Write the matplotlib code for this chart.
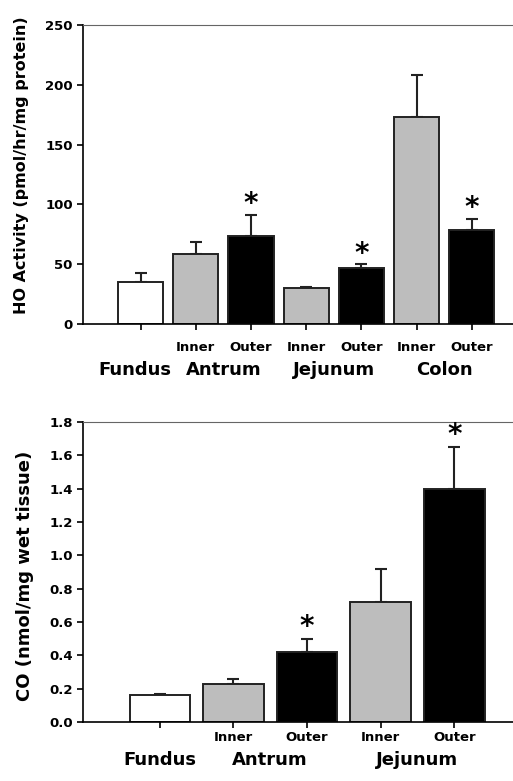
import numpy as np
import matplotlib.pyplot as plt

# Верхній графік: HO activity
ho_sub = ['', 'Inner', 'Outer', 'Inner', 'Outer', 'Inner', 'Outer']
ho_vals = [35, 59, 74, 30, 47, 173, 79]
ho_err = [8, 10, 17, 1, 3, 35, 9]
ho_colors = ['white', '#bdbdbd', 'black', '#bdbdbd', 'black', '#bdbdbd', 'black']
ho_star = [False, False, True, False, True, False, True]
ho_groups = ['Fundus', 'Antrum', 'Jejunum', 'Colon']
ho_group_pos = [-0.1, 1.5, 3.5, 5.5]

# Нижній графік: CO
co_sub = ['', 'Inner', 'Outer', 'Inner', 'Outer']
co_vals = [0.16, 0.23, 0.42, 0.72, 1.40]
co_err = [0.01, 0.03, 0.08, 0.20, 0.25]
co_colors = ['white', '#bdbdbd', 'black', '#bdbdbd', 'black']
co_star = [False, False, True, False, True]
co_groups = ['Fundus', 'Antrum', 'Jejunum']
co_group_pos = [0, 1.5, 3.5]

plt.rcParams['font.family'] = 'DejaVu Sans'
plt.rcParams['font.weight'] = 'bold'

fig = plt.figure(figsize=(5.13, 7.81), dpi=100)
ax1 = fig.add_axes([0.162, 0.585, 0.86, 0.383])
ax2 = fig.add_axes([0.162, 0.0755, 0.86, 0.384])


def draw(ax, vals, err, colors, star, sub, groups, gpos, ylim, yticks, ylabel, fmt,
         star_off, lab_fs, lab_xy, sub_off, grp_off):
    x = np.arange(len(vals))
    ax.bar(x, vals, width=0.82, color=colors, edgecolor='#222222', linewidth=1.4, zorder=2)
    ax.errorbar(x, vals, yerr=[np.zeros(len(err)), err], fmt='none', ecolor='#222222',
                elinewidth=1.5, capsize=4, capthick=1.5, zorder=1)
    for xi, v, e, s in zip(x, vals, err, star):
        if s:
            ax.text(xi, v + e + star_off, '*', ha='center', va='center', fontsize=20, fontweight='bold')
    ax.set_xlim(-1.04, len(vals) - 0.05)
    ax.set_ylim(*ylim)
    ax.set_yticks(yticks)
    ax.set_yticklabels([fmt.format(t) for t in yticks], fontsize=9.5, fontweight='bold')
    ax.set_xticks(x)
    ax.set_xticklabels([])
    ax.tick_params(axis='both', direction='out', length=4, width=1.2)
    ax.spines['right'].set_visible(False)
    ax.spines['top'].set_color('#666666')
    ax.spines['left'].set_linewidth(1.2)
    ax.spines['bottom'].set_linewidth(1.2)
    ax.set_ylabel(ylabel, fontsize=lab_fs, fontweight='bold')
    ax.yaxis.set_label_coords(*lab_xy)
    for xi, s in zip(x, sub):
        ax.annotate(s, (xi, 0), xycoords=('data', 'axes fraction'), xytext=(0, sub_off),
                    textcoords='offset points', ha='center', va='center',
                    fontsize=9.5, fontweight='bold')
    for g, p in zip(groups, gpos):
        ax.annotate(g, (p, 0), xycoords=('data', 'axes fraction'), xytext=(0, grp_off),
                    textcoords='offset points', ha='center', va='center',
                    fontsize=13, fontweight='bold')


draw(ax1, ho_vals, ho_err, ho_colors, ho_star, ho_sub, ho_groups, ho_group_pos,
     (0, 250), [0, 50, 100, 150, 200, 250], 'HO Activity (pmol/hr/mg protein)', '{:d}',
     9, 11.5, (-0.122, 0.532), -16.6, -33)
draw(ax2, co_vals, co_err, co_colors, co_star, co_sub, co_groups, co_group_pos,
     (0, 1.8), [0.0, 0.2, 0.4, 0.6, 0.8, 1.0, 1.2, 1.4, 1.6, 1.8], 'CO (nmol/mg wet tissue)', '{:.1f}',
     0.07, 13, (-0.111, 0.487), -10.8, -27.4)

fig.savefig('out.png', dpi=100)
